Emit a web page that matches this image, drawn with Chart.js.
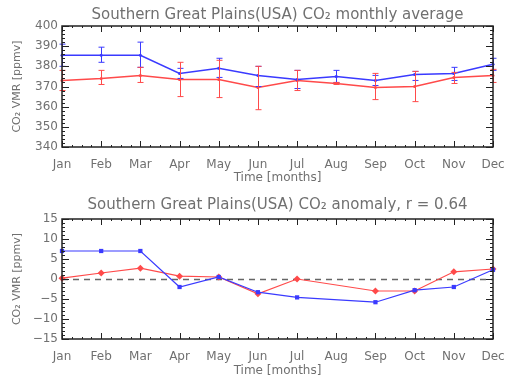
<!DOCTYPE html>
<html>
<head>
<meta charset="utf-8">
<script src="https://cdn.jsdelivr.net/npm/chart.js@4.4.0/dist/chart.umd.min.js"></script>
<style>
  body { margin: 0; background: #fff; }
  .box { position: absolute; left: 0; width: 510px; }
</style>
</head>
<body>
<div class="box" style="top:0;height:190px"><canvas id="avgChart" width="510" height="190"></canvas></div>
<div class="box" style="top:190px;height:193px"><canvas id="anomChart" width="510" height="193"></canvas></div>
<script>
// data
var months = ['Jan','Feb','Mar','Apr','May','Jun','Jul','Aug','Sep','Oct','Nov','Dec'];

var blueAvg  = [385.5, 385.5, 385.5, 376.5, 379, 375.5, 373.5, 375, 373, 376, 376.5, 381];
var blueLow  = [380, 382, 379.5, 374, 374.5, 370, 369, 372, 370.5, 373, 373, 378];
var blueHigh = [391, 389.5, 392, 379, 384, 380, 378, 378, 375.5, 377.5, 379.5, 384];

var redAvg  = [373, 374, 375.5, 373.5, 373.5, 369.5, 373, 371.5, 369.5, 370, 374.5, 375.5];
var redLow  = [368, 371, 372, 365, 364.5, 358.5, 368, 371, 363.5, 362.5, 371.5, 372];
var redHigh = [378, 378, 379.5, 382, 383, 380, 378, 372, 376.5, 377.5, 377, 378.5];

var blueAnom = [7, 7, 7, -2, 0.5, -3.3, -4.6, null, -5.8, -2.8, -2, 2.3];
var redAnom  = [0.2, 1.5, 2.7, 0.7, 0.5, -3.7, 0, null, -3, -3, 1.8, 2.5];

var avgTicks = [340, 350, 360, 370, 380, 390, 400];
var anomTicks = [-15, -10, -5, 0, 5, 10, 15];

var BLUE = '#3a3aff';
var RED = '#ff4a4a';
var TXT = '#707070';

Chart.defaults.font.family = 'DejaVu Sans';
Chart.defaults.color = TXT;

// frame with inward ticks, like the IDL plot box
var framePlugin = {
    id: 'frame',
    afterDraw: function(chart, args, opts) {
        var a = chart.chartArea, ctx = chart.ctx;
        var y = chart.scales.y;
        ctx.save();
        ctx.strokeStyle = '#222';
        ctx.lineWidth = 1.5;
        ctx.strokeRect(a.left, a.top, a.right - a.left, a.bottom - a.top);
        ctx.lineWidth = 1;
        // y ticks
        for (var v = y.min; v <= y.max + 1e-6; v += opts.yMinor) {
            var py = Math.round(y.getPixelForValue(v)) + 0.5;
            var major = Math.abs(v % opts.yMajor) < 1e-6;
            var len = major ? 7 : 3;
            ctx.beginPath();
            ctx.moveTo(a.left, py); ctx.lineTo(a.left + len, py);
            ctx.moveTo(a.right, py); ctx.lineTo(a.right - len, py);
            ctx.stroke();
        }
        // x ticks
        var x = chart.scales.x;
        for (var i = 0; i < months.length; i++) {
            var px = Math.round(x.getPixelForValue(i)) + 0.5;
            ctx.beginPath();
            ctx.moveTo(px, a.bottom); ctx.lineTo(px, a.bottom - 6);
            ctx.moveTo(px, a.top); ctx.lineTo(px, a.top + 6);
            ctx.stroke();
            if (i < months.length - 1) {
                for (var k = 1; k < 4; k++) {
                    var mx = Math.round(x.getPixelForValue(i + k / 4)) + 0.5;
                    ctx.beginPath();
                    ctx.moveTo(mx, a.bottom); ctx.lineTo(mx, a.bottom - 2);
                    ctx.moveTo(mx, a.top); ctx.lineTo(mx, a.top + 2);
                    ctx.stroke();
                }
            }
        }
        // title, centred over the plot box
        ctx.fillStyle = TXT;
        ctx.font = '15px "DejaVu Sans"';
        ctx.textAlign = 'center';
        ctx.textBaseline = 'middle';
        ctx.fillText(opts.title, (a.left + a.right) / 2, 15);
        ctx.restore();
    }
};

var errorBarPlugin = {
    id: 'errorBars',
    afterDatasetsDraw: function(chart, args, opts) {
        if (!opts.bars) return;
        var ctx = chart.ctx, x = chart.scales.x, y = chart.scales.y;
        ctx.save();
        opts.bars.forEach(function(b) {
            ctx.strokeStyle = b.color;
            ctx.lineWidth = 1;
            for (var i = 0; i < b.low.length; i++) {
                var px = Math.round(x.getPixelForValue(i)) + 0.5;
                var y1 = y.getPixelForValue(b.low[i]);
                var y2 = y.getPixelForValue(b.high[i]);
                ctx.beginPath();
                ctx.moveTo(px, y1); ctx.lineTo(px, y2);
                ctx.moveTo(px - 3, y1); ctx.lineTo(px + 3, y1);
                ctx.moveTo(px - 3, y2); ctx.lineTo(px + 3, y2);
                ctx.stroke();
            }
        });
        ctx.restore();
    }
};

var zeroLinePlugin = {
    id: 'zeroLine',
    beforeDatasetsDraw: function(chart, args, opts) {
        if (!opts.show) return;
        var ctx = chart.ctx, a = chart.chartArea;
        var py = Math.round(chart.scales.y.getPixelForValue(0)) + 0.5;
        ctx.save();
        ctx.strokeStyle = '#666';
        ctx.lineWidth = 1.5;
        ctx.setLineDash([6, 5]);
        ctx.beginPath();
        ctx.moveTo(a.left, py); ctx.lineTo(a.right, py);
        ctx.stroke();
        ctx.restore();
    }
};

function baseOptions(title, min, max, ticks, extra) {
    return {
        responsive: false,
        animation: false,
        layout: { padding: { left: 0, right: 0, top: extra.top, bottom: 0 } },
        plugins: {
            legend: { display: false },
            tooltip: { enabled: false },
            title: { display: false },
            frame: { title: title, yMajor: extra.yMajor, yMinor: extra.yMinor },
            errorBars: extra.errorBars || {},
            zeroLine: extra.zeroLine || {}
        },
        scales: {
            x: {
                type: 'category',
                offset: false,
                afterFit: function(s) { s.height = extra.xHeight; s.paddingLeft = 0; s.paddingRight = 17; },
                grid: { display: false, drawTicks: false },
                border: { display: false },
                ticks: { padding: 11, font: { size: 12 }, maxRotation: 0, autoSkip: false },
                title: { display: true, text: 'Time [months]', font: { size: 12 }, padding: { top: 0, bottom: 5 } }
            },
            y: {
                min: min, max: max,
                afterBuildTicks: function(s) { s.ticks = ticks.map(function(v) { return { value: v }; }); },
                afterFit: function(s) { s.width = 62; },
                grid: { display: false, drawTicks: false },
                border: { display: false },
                ticks: {
                    padding: 4, font: { size: 12 },
                    callback: function(v) { return String(v).replace('-', '\u2212'); }
                },
                title: { display: true, text: 'CO\u2082 VMR [ppmv]', font: { size: 11 }, padding: { top: 11, bottom: 4 } }
            }
        }
    };
}

new Chart(document.getElementById('avgChart'), {
    type: 'line',
    data: {
        labels: months,
        datasets: [
            { data: blueAvg, borderColor: BLUE, borderWidth: 1.5, pointRadius: 1.5, pointBackgroundColor: BLUE, pointBorderWidth: 0, tension: 0 },
            { data: redAvg, borderColor: RED, borderWidth: 1.5, pointRadius: 1.5, pointBackgroundColor: RED, pointBorderWidth: 0, tension: 0 }
        ]
    },
    options: baseOptions('Southern Great Plains(USA) CO\u2082 monthly average', 340, 400, avgTicks, {
        top: 26,
        xHeight: 43,
        yMajor: 10, yMinor: 2,
        errorBars: { bars: [
            { low: blueLow, high: blueHigh, color: BLUE },
            { low: redLow, high: redHigh, color: RED }
        ] }
    }),
    plugins: [framePlugin, errorBarPlugin, zeroLinePlugin]
});

new Chart(document.getElementById('anomChart'), {
    type: 'line',
    data: {
        labels: months,
        datasets: [
            { data: blueAnom, borderColor: BLUE, borderWidth: 1.2, spanGaps: true, pointStyle: 'rect', pointRadius: 3, pointBackgroundColor: BLUE, pointBorderColor: BLUE, pointBorderWidth: 0, tension: 0 },
            { data: redAnom, borderColor: RED, borderWidth: 1.2, spanGaps: true, pointStyle: 'rectRot', pointRadius: 3.5, pointBackgroundColor: RED, pointBorderColor: RED, pointBorderWidth: 0, tension: 0 }
        ]
    },
    options: baseOptions('Southern Great Plains(USA) CO\u2082 anomaly, r = 0.64', -15, 15, anomTicks, {
        top: 29,
        xHeight: 44,
        yMajor: 5, yMinor: 1,
        zeroLine: { show: true }
    }),
    plugins: [framePlugin, errorBarPlugin, zeroLinePlugin]
});
</script>
</body>
</html>
